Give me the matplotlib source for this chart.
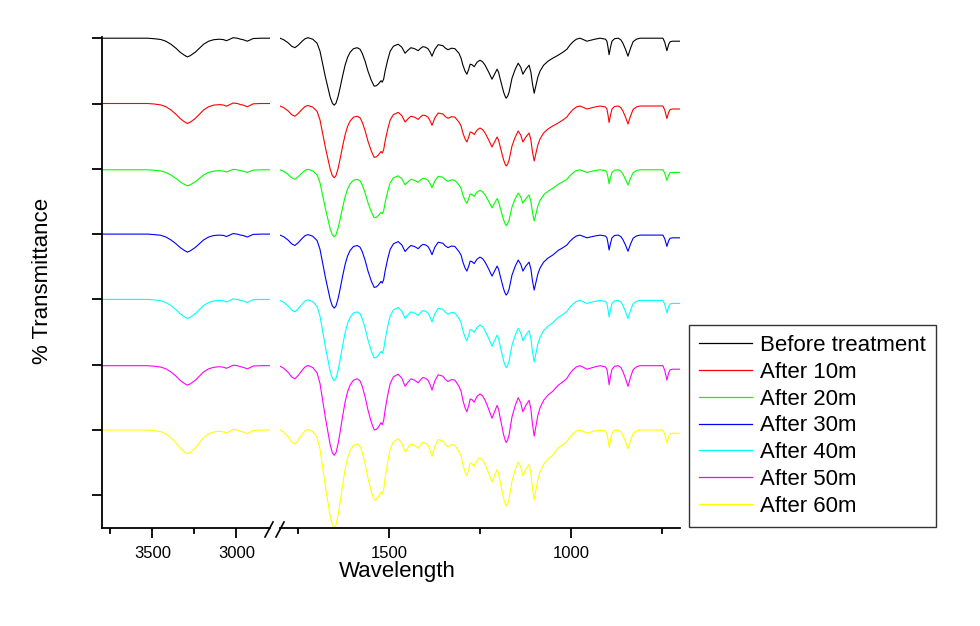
import numpy as np
import matplotlib
matplotlib.use('Agg')
import matplotlib.pyplot as plt
from matplotlib.lines import Line2D

plt.rcParams['font.family'] = ['Liberation Sans', 'DejaVu Sans']

labels = ['Before treatment', 'After 10m', 'After 20m', 'After 30m',
          'After 40m', 'After 50m', 'After 60m']
colors = ['#000000', '#FF0000', '#00FF00', '#0000FF', '#00FFFF', '#FF00FF', '#FFFF00']

# wavenumbers of the two plotted windows (cm-1)
wn_high = [3800, 3600, 3530, 3490, 3450, 3420, 3390, 3360, 3335, 3310,
           3292, 3275, 3245, 3220, 3195, 3165, 3135, 3100, 3075, 3060,
           3045, 3020, 2995, 2975, 2960, 2935, 2915, 2900, 2850, 2800]
wn_low = [1800, 1790, 1778, 1768, 1759, 1750, 1739, 1731, 1723, 1710,
          1698, 1690, 1682, 1675, 1668, 1662, 1656, 1651, 1646, 1640,
          1635, 1628, 1621, 1614, 1607, 1598, 1588, 1580, 1574, 1566,
          1558, 1549, 1541, 1535, 1530, 1522, 1519, 1515, 1511, 1504,
          1497, 1488, 1475, 1465, 1456, 1448, 1440, 1430, 1420, 1413,
          1407, 1400, 1393, 1387, 1382, 1374, 1365, 1352, 1345, 1338,
          1328, 1319, 1308, 1302, 1297, 1291, 1286, 1281, 1277, 1272,
          1266, 1258, 1250, 1243, 1236, 1226, 1217, 1210, 1203, 1199,
          1195, 1190, 1185, 1181, 1178, 1174, 1170, 1166, 1162, 1153,
          1145, 1138, 1132, 1124, 1115, 1110, 1106, 1101, 1096, 1091,
          1085, 1075, 1063, 1050, 1035, 1022, 1011, 1003, 994, 985,
          975, 965, 956, 945, 934, 920, 905, 901, 898, 895,
          891, 887, 880, 870, 863, 857, 850, 843, 836, 829,
          820, 810, 747, 742, 736, 731, 727, 720, 700]

# transmittance (arbitrary %)
t0_high = [100, 100, 100, 99.5, 98.7, 97, 94, 90, 86, 83, 81.3, 82.5, 86, 90, 94,
           97, 98.5, 99, 98.5, 97.5, 98.5, 100.5, 100, 99, 98.5, 97, 98.5, 99.7, 100, 100]
t10_high = [100, 100, 100, 99.5, 98.6, 96.8, 93.6, 89.3, 85, 81.8, 80, 81.3, 85, 89.3, 93.6,
            96.8, 98.4, 98.9, 98.4, 97.3, 98.4, 100.5, 100, 98.9, 98.4, 96.8, 98.4, 99.7, 100, 100]
t20_high = [99, 99, 99, 98.6, 97.9, 96.4, 93.8, 90.4, 87, 84.4, 82.9, 84, 87, 90.4, 93.8,
            96.4, 97.7, 98.1, 97.7, 96.8, 97.7, 99.4, 99, 98.1, 97.7, 96.4, 97.7, 98.7, 99, 99]
t30_high = [100, 100, 100, 99.5, 98.8, 97.1, 94.2, 90.4, 86.6, 83.7, 82, 83.2, 86.6, 90.4, 94.2,
            97.1, 98.6, 99, 98.6, 97.6, 98.6, 100.5, 100, 99, 98.6, 97.1, 98.6, 99.7, 100, 100]
t40_high = [100, 100, 100, 99.5, 98.7, 96.9, 93.9, 89.8, 85.7, 82.7, 80.9, 82.2, 85.7, 89.8, 93.9,
            96.9, 98.5, 99, 98.5, 97.4, 98.5, 100.5, 100, 99, 98.5, 96.9, 98.5, 99.7, 100, 100]
t50_high = [99, 99, 99, 98.5, 97.6, 95.9, 92.8, 88.6, 84.4, 81.3, 79.6, 80.8, 84.4, 88.6, 92.8,
            95.9, 97.4, 98, 97.4, 96.4, 97.4, 99.5, 99, 98, 97.4, 95.9, 97.4, 98.7, 99, 99]
t60_high = [100, 100, 100, 99.4, 98.3, 96.2, 92.3, 87.2, 82.1, 78.2, 76.1, 77.6, 82.1, 87.2, 92.3,
            96.2, 98.1, 98.7, 98.1, 96.8, 98.1, 100.6, 100, 98.7, 98.1, 96.2, 98.1, 99.6, 100, 100]

t0_low = [100, 98.5, 95.5, 92, 90.5, 93, 97, 99.5, 100.5, 99,
          95, 87, 73, 61, 50, 41, 35, 33, 35, 42,
          50, 62, 73, 81, 86, 89.5, 90.5, 89, 85, 77,
          67, 58, 52, 52.5, 54, 57.5, 56, 59, 67, 78,
          87, 92, 94, 91, 85, 88, 90.5, 89.5, 87.5, 90,
          91.5, 91, 89.5, 86, 82, 89, 93.5, 92.5, 90, 88.5,
          90, 89.5, 85, 80, 73, 67, 64, 69, 74, 73.5,
          71.5, 76, 78, 76.5, 73, 66, 59, 64, 69, 66,
          60, 53, 46, 42, 40, 42, 46, 53, 60, 69,
          75, 71, 64, 69, 73, 66, 55, 45, 53, 61,
          67, 73, 77, 80, 83, 86, 89, 93, 96.5, 99,
          100, 98.5, 97, 98, 99, 100, 99, 97, 91, 83.5,
          91, 97, 99.5, 100, 98.5, 95, 89, 82, 90, 96.5,
          99, 100, 100, 96, 87.5, 94, 96.5, 97, 97]
t10_low = [97.5, 95.9, 92.7, 88.9, 87.3, 90, 94.3, 97, 98, 96.4,
           92.1, 83.6, 68.6, 55.8, 44, 34.4, 27.9, 25.8, 27.9, 35.4,
           44, 56.8, 68.6, 77.2, 82.5, 86.3, 87.3, 85.7, 81.5, 72.9,
           62.2, 52.6, 46.1, 46.7, 48.3, 52, 50.4, 53.6, 62.2, 74,
           83.6, 88.9, 91.1, 87.9, 81.5, 84.7, 87.3, 86.3, 84.1, 86.8,
           88.4, 87.9, 86.3, 82.5, 78.2, 85.7, 90.5, 89.5, 86.8, 85.2,
           86.8, 86.3, 81.5, 77.5, 70.5, 64.5, 61.5, 66.5, 71.5, 71,
           69, 73.5, 75.5, 74, 70.5, 63.5, 56.5, 61.5, 66.5, 63.5,
           57.5, 50.5, 43.5, 39.5, 37.5, 39.5, 43.5, 50.5, 57.5, 66.5,
           72.5, 68.5, 61.5, 66.5, 70.5, 63.5, 52.5, 42.5, 50.5, 58.5,
           64.5, 70.5, 74.5, 77.5, 80.5, 83.5, 86.5, 90.5, 94, 96.5,
           97.5, 96, 94.5, 95.5, 96.5, 97.5, 96.5, 94.5, 88.5, 81,
           88.5, 94.5, 97, 97.5, 96, 92.5, 86.5, 79.5, 87.5, 94,
           96.5, 97.5, 97.5, 93.5, 85, 91.5, 94, 94.5, 94.5]
t20_low = [99, 97.5, 94.5, 91, 89.5, 92, 96, 98.5, 99.5, 98,
           94, 86, 72, 60, 49, 40, 34, 32, 34, 41,
           49, 61, 72, 80, 85, 88.5, 89.5, 88, 84, 76,
           66, 57, 51, 51.5, 53, 56.5, 55, 58, 66, 77,
           86, 91, 93, 90, 84, 87, 89.5, 88.5, 86.5, 89,
           90.5, 90, 88.5, 85, 81, 88, 92.5, 91.5, 89, 87.5,
           89, 88.5, 84, 80.4, 73.9, 68.3, 65.5, 70.2, 74.8, 74.4,
           72.5, 76.7, 78.5, 77.1, 73.9, 67.4, 60.9, 65.5, 70.2, 67.4,
           61.8, 55.3, 48.8, 45.1, 43.2, 45.1, 48.8, 55.3, 61.8, 70.2,
           75.7, 72, 65.5, 70.2, 73.9, 67.4, 57.1, 47.8, 55.3, 62.7,
           68.3, 73.9, 77.6, 80.4, 84.5, 87.1, 89.6, 93, 96, 98.2,
           99, 97.7, 96.4, 97.3, 98.2, 99, 98.2, 96.4, 91.3, 85,
           91.3, 96.4, 98.6, 99, 97.7, 94.7, 89.6, 83.7, 90.5, 96,
           98.2, 99, 99, 95.6, 88.4, 93.9, 96, 96.4, 96.4]
t30_low = [99, 97.4, 94.1, 90.3, 88.6, 91.4, 95.7, 98.5, 99.5, 97.9,
           93.5, 84.8, 69.6, 56.5, 44.5, 34.7, 28.1, 26, 28.1, 35.8,
           44.5, 57.6, 69.6, 78.3, 83.7, 87.6, 88.6, 87, 82.6, 73.9,
           63, 53.2, 46.7, 47.2, 48.9, 52.7, 51, 54.3, 63, 75,
           84.8, 90.3, 92.5, 89.2, 82.6, 85.9, 88.6, 87.6, 85.4, 88.1,
           89.7, 89.2, 87.6, 83.7, 79.4, 87, 91.9, 90.8, 88.1, 86.5,
           88.1, 87.6, 82.6, 79, 72, 66, 63, 68, 73, 72.5,
           70.5, 75, 77, 75.5, 72, 65, 58, 63, 68, 65,
           59, 52, 45, 41, 39, 41, 45, 52, 59, 68,
           74, 70, 63, 68, 72, 65, 54, 44, 52, 60,
           66, 72, 76, 79, 83.7, 86.4, 89.1, 92.7, 95.8, 98.1,
           99, 97.6, 96.3, 97.2, 98.1, 99, 98.1, 96.3, 90.9, 84.1,
           90.9, 96.3, 98.6, 99, 97.6, 94.5, 89.1, 82.8, 90, 95.8,
           98.1, 99, 99, 95.4, 87.7, 93.6, 95.8, 96.3, 96.3]
t40_low = [99, 97.2, 93.6, 89.4, 87.6, 90.6, 95.4, 98.4, 99.6, 97.8,
           93, 83.4, 66.6, 52.2, 39, 28.2, 21, 18.6, 21, 29.4,
           39, 53.4, 66.6, 76.2, 82.2, 86.4, 87.6, 85.8, 81, 71.4,
           59.4, 48.6, 41.4, 42, 43.8, 48, 46.2, 49.8, 59.4, 72.6,
           83.4, 89.4, 91.8, 88.2, 81, 84.6, 87.6, 86.4, 84, 87,
           88.8, 88.2, 86.4, 82.2, 77.4, 85.8, 91.2, 90, 87, 85.2,
           87, 86.4, 81, 76.6, 68.8, 62, 58.7, 64.3, 69.9, 69.3,
           67.1, 72.1, 74.4, 72.7, 68.8, 60.9, 53.1, 58.7, 64.3, 60.9,
           54.2, 46.4, 38.5, 34, 31.8, 34, 38.5, 46.4, 54.2, 64.3,
           71, 66.5, 58.7, 64.3, 68.8, 60.9, 48.6, 37.4, 46.4, 55.3,
           62, 68.8, 73.2, 76.6, 82, 85, 88, 92, 95.5, 98,
           99, 97.5, 96, 97, 98, 99, 98, 96, 90, 82.5,
           90, 96, 98.5, 99, 97.5, 94, 88, 81, 89, 95.5,
           98, 99, 99, 95, 86.5, 93, 95.5, 96, 96]
t50_low = [98.5, 96.5, 92.5, 87.9, 85.9, 89.2, 94.5, 97.8, 99.2, 97.2,
           91.8, 81.2, 62.6, 46.6, 32, 20, 12, 9.4, 12, 21.4,
           32, 48, 62.6, 73.2, 79.9, 84.5, 85.9, 83.9, 78.5, 67.9,
           54.6, 42.6, 34.7, 35.3, 37.3, 42, 40, 44, 54.6, 69.2,
           81.2, 87.9, 90.5, 86.5, 78.5, 82.5, 85.9, 84.5, 81.9, 85.2,
           87.2, 86.5, 84.5, 79.9, 74.6, 83.9, 89.9, 88.5, 85.2, 83.2,
           85.2, 84.5, 78.5, 73.4, 64.4, 56.8, 52.9, 59.3, 65.7, 65.1,
           62.5, 68.3, 70.8, 68.9, 64.4, 55.5, 46.5, 52.9, 59.3, 55.5,
           47.8, 38.8, 29.9, 24.8, 22.2, 24.8, 29.9, 38.8, 47.8, 59.3,
           67, 61.9, 52.9, 59.3, 64.4, 55.5, 41.4, 28.6, 38.8, 49.1,
           56.8, 64.4, 69.6, 73.4, 79.4, 82.9, 86.3, 91, 95, 97.8,
           99, 97.3, 95.5, 96.7, 97.8, 99, 97.8, 95.5, 88.6, 80,
           88.6, 95.5, 98.4, 99, 97.3, 93.2, 86.3, 78.3, 87.5, 95,
           97.8, 99, 99, 94.4, 84.6, 92.1, 95, 95.5, 95.5]
t60_low = [100, 97.8, 93.4, 88.3, 86.1, 89.8, 95.6, 99.3, 100.7, 98.5,
           92.7, 81, 60.6, 43.1, 27, 13.9, 5.1, 2.2, 5.1, 15.3,
           27, 44.5, 60.6, 72.3, 79.6, 84.7, 86.1, 83.9, 78.1, 66.4,
           51.8, 38.7, 29.9, 30.6, 32.8, 38, 35.8, 40.1, 51.8, 67.9,
           81, 88.3, 91.2, 86.9, 78.1, 82.5, 86.1, 84.7, 81.7, 85.4,
           87.6, 86.9, 84.7, 79.6, 73.7, 83.9, 90.5, 89, 85.4, 83.2,
           85.4, 84.7, 78.1, 74.6, 65.7, 58.1, 54.3, 60.6, 67, 66.3,
           63.8, 69.5, 72.1, 70.2, 65.7, 56.8, 47.9, 54.3, 60.6, 56.8,
           49.2, 40.3, 31.4, 26.3, 23.8, 26.3, 31.4, 40.3, 49.2, 60.6,
           68.2, 63.2, 54.3, 60.6, 65.7, 56.8, 42.8, 30.1, 40.3, 50.5,
           58.1, 65.7, 70.8, 74.6, 82.1, 85.3, 88.4, 92.6, 96.3, 99,
           100, 98.4, 96.8, 97.9, 99, 100, 99, 96.8, 90.5, 82.7,
           90.5, 96.8, 99.5, 100, 98.4, 94.7, 88.4, 81.1, 89.5, 96.3,
           99, 100, 100, 95.8, 86.9, 93.7, 96.3, 96.8, 96.8]

high_sets = [t0_high, t10_high, t20_high, t30_high, t40_high, t50_high, t60_high]
low_sets = [t0_low, t10_low, t20_low, t30_low, t40_low, t50_low, t60_low]

W, H = 980, 626
step = 65.3  # vertical shift between stacked spectra

fig = plt.figure(figsize=(W / 100, H / 100), dpi=100)
ax_l = fig.add_axes([102 / W, 1 - 528 / H, 168 / W, 491 / H])
ax_r = fig.add_axes([280 / W, 1 - 528 / H, 400 / W, 491 / H])

n = len(labels)
for i in range(n):
    off = (n - 1 - i) * step
    ax_l.plot(wn_high, np.array(high_sets[i]) + off, color=colors[i], lw=0.8)
    ax_r.plot(wn_low, np.array(low_sets[i]) + off, color=colors[i], lw=0.8,
              label=labels[i])

for ax in (ax_l, ax_r):
    ax.set_ylim(2, 493)
    ax.spines['top'].set_visible(False)
    ax.spines['right'].set_visible(False)
    ax.spines['bottom'].set_linewidth(1.3)
    ax.tick_params(axis='x', which='major', direction='out', length=7, width=1.3,
                   labelsize=12, pad=6)
    ax.tick_params(axis='x', which='minor', direction='out', length=4, width=1.3)

ax_l.set_xlim(3800, 2800)
ax_r.set_xlim(1800, 700)
ax_l.set_xticks([3500, 3000])
ax_l.set_xticks([3750, 3250], minor=True)
ax_r.set_xticks([1500, 1000])
ax_r.set_xticks([1750, 1250, 750], minor=True)

ax_l.spines['left'].set_linewidth(1.3)
ax_l.set_yticks([100 + step * (k - 1) for k in range(8)])
ax_l.set_yticklabels([])
ax_l.tick_params(axis='y', direction='out', length=7, width=1.3)
ax_r.spines['left'].set_visible(False)
ax_r.set_yticks([])

# axis break marks
for x0 in (265, 276):
    fig.add_artist(Line2D([x0 / W, (x0 + 8) / W], [1 - 537 / H, 1 - 522 / H],
                          color='black', lw=1.2))

fig.text(397 / W, 1 - 572 / H, 'Wavelength', ha='center', va='center', fontsize=16)
fig.text(43 / W, 1 - 281 / H, '% Transmittance', ha='center', va='center',
         rotation=90, fontsize=16)

leg = ax_r.legend(loc='upper left', bbox_to_anchor=(689 / W, 1 - 325 / H),
                  bbox_transform=fig.transFigure, fontsize=16, frameon=True,
                  fancybox=False, edgecolor='black', handlelength=2.4,
                  handletextpad=0.36, labelspacing=0.26, borderpad=0.45,
                  borderaxespad=0)
leg.get_frame().set_linewidth(1.0)
for line in leg.get_lines():
    line.set_linewidth(0.9)

fig.savefig('out.png', dpi=100)
